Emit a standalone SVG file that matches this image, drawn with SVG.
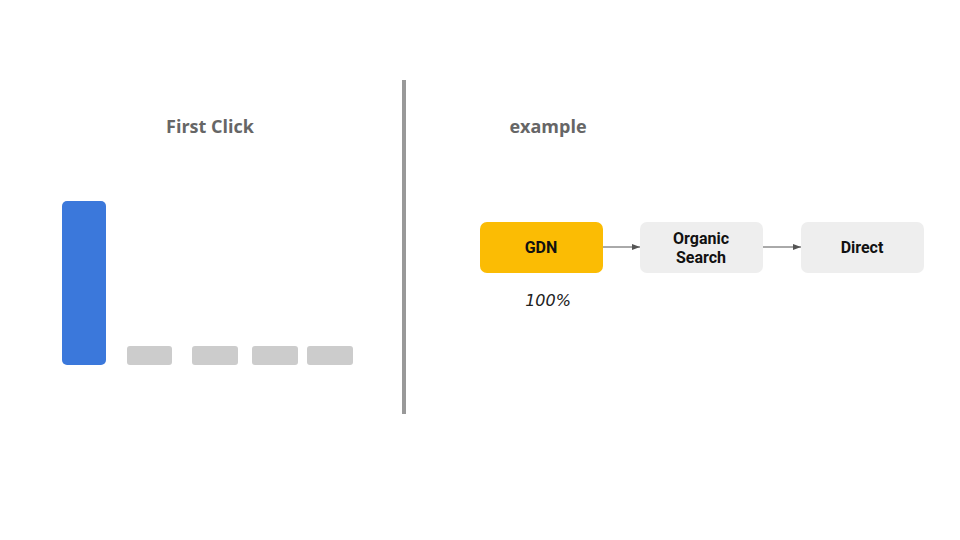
<svg xmlns="http://www.w3.org/2000/svg" width="960" height="540" viewBox="0 0 960 540">
<style>
.t{font-family:Roboto,"Liberation Sans",sans-serif;font-weight:bold;text-anchor:middle}
.h{font-size:18px;fill:#666;font-family:"Open Sans","Liberation Sans",sans-serif}
.n{font-size:16px;fill:#111}
.g{fill:#cccccc}
.c{stroke:#555;stroke-width:1;fill:none}
</style>
<defs><marker id="a" viewBox="0 0 8 6" refX="8" refY="3" markerWidth="8" markerHeight="6" orient="auto"><path d="M0,0L8,3L0,6z" fill="#555"/></marker></defs>
<rect width="960" height="540" fill="#fff"/>
<text class="t h" x="210" y="133">First Click</text>
<text class="t h" x="548" y="133">example</text>
<rect x="402" y="80" width="4" height="334" fill="#999"/>
<g id="bars">
<rect x="62" y="201" width="44" height="164" rx="5" fill="#3b78db"/>
<rect class="g" x="127" y="346" width="45" height="19" rx="3"/>
<rect class="g" x="192" y="346" width="46" height="19" rx="3"/>
<rect class="g" x="252" y="346" width="46" height="19" rx="3"/>
<rect class="g" x="307" y="346" width="46" height="19" rx="3"/>
</g>
<g id="gdn"><rect x="480" y="222" width="123" height="51" rx="7" fill="#fbbc04"/><text class="t n" x="541" y="253">GDN</text></g>
<g id="organic"><rect x="640" y="222" width="123" height="51" rx="7" fill="#eeeeee"/><text class="t n" x="701" y="244">Organic</text><text class="t n" x="701" y="263">Search</text></g>
<g id="direct"><rect x="801" y="222" width="123" height="51" rx="7" fill="#eeeeee"/><text class="t n" x="862" y="253">Direct</text></g>
<g id="connectors">
<line class="c" x1="603" y1="247" x2="640" y2="247" marker-end="url(#a)"/>
<line class="c" x1="763" y1="247" x2="801" y2="247" marker-end="url(#a)"/>
</g>
<text x="548" y="306" font-family="'DejaVu Sans',sans-serif" font-style="italic" font-size="16" fill="#222" text-anchor="middle">100%</text>
</svg>
